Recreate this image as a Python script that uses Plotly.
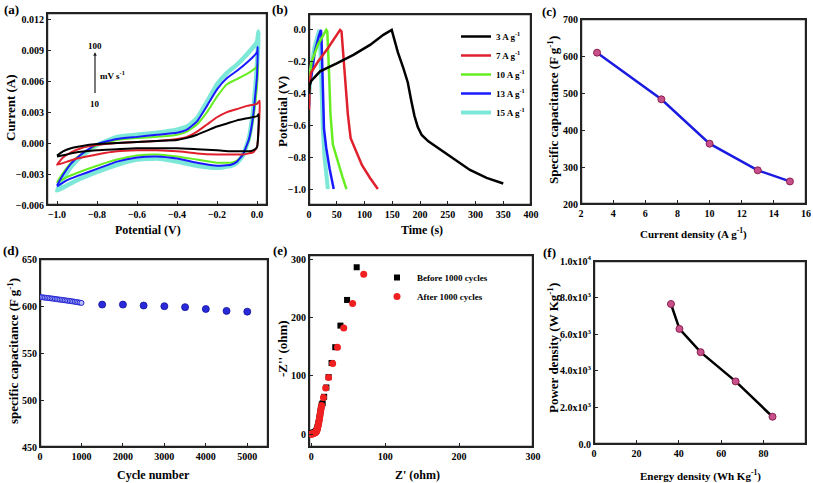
import plotly.graph_objects as go

W, H = 813, 483
FONT = "Liberation Serif"

# ---------------- (a) cyclic voltammetry, 10 -> 100 mV/s ----------------
cv_up_x = [-1.0, -0.97, -0.93, -0.88, -0.8, -0.7, -0.6, -0.5, -0.4, -0.35, -0.3, -0.25, -0.2, -0.15, -0.1, -0.05, 0.0]
cv_lo_x = [0.0, -0.02, -0.04, -0.07, -0.1, -0.13, -0.2, -0.3, -0.4, -0.5, -0.6, -0.7, -0.8, -0.9, -0.95, -1.0]

cv_black_up = [-0.0012, -0.0008, -0.0005, -0.0003, -0.0001, 0.0, 0.0001, 0.0002, 0.0003, 0.0005, 0.0008, 0.0012, 0.0016, 0.0019, 0.0022, 0.0024, 0.0026]
cv_black_lo = [-0.0004, -0.0007, -0.0008, -0.0008, -0.0008, -0.0008, -0.0007, -0.0006, -0.0005, -0.0005, -0.0005, -0.0006, -0.0007, -0.0009, -0.0011, -0.0013]
cv_black_tip = [0.008, 0.0028]

cv_red_up = [-0.0021, -0.0014, -0.0009, -0.0005, -0.0002, 0.0, 0.0001, 0.0002, 0.0004, 0.0006, 0.0011, 0.0018, 0.0025, 0.003, 0.0033, 0.0036, 0.0038]
cv_red_lo = [-0.0004, -0.0009, -0.0010, -0.0011, -0.0011, -0.0011, -0.0011, -0.0010, -0.0008, -0.0007, -0.0007, -0.0008, -0.0011, -0.0015, -0.0018, -0.0021]
cv_red_tip = [0.013, 0.0041]

cv_green_up = [-0.0038, -0.0029, -0.0019, -0.0011, -0.0002, 0.0003, 0.0005, 0.0006, 0.0008, 0.0011, 0.0018, 0.003, 0.0045, 0.0057, 0.0062, 0.0067, 0.0074]
cv_green_lo = [0.0055, 0.0022, 0.0003, -0.0011, -0.0017, -0.0019, -0.0019, -0.0016, -0.0013, -0.0011, -0.0012, -0.0016, -0.0022, -0.0029, -0.0033, -0.0038]
cv_green_tip = [0.005, 0.0078]

cv_blue_up = [-0.0041, -0.0031, -0.0020, -0.0011, -0.0001, 0.0004, 0.0006, 0.0008, 0.001, 0.0013, 0.0021, 0.0036, 0.0052, 0.0063, 0.007, 0.0078, 0.0088]
cv_blue_lo = [0.0065, 0.0025, 0.0004, -0.0011, -0.0018, -0.0021, -0.0022, -0.0019, -0.0015, -0.0013, -0.0014, -0.0018, -0.0025, -0.0032, -0.0036, -0.0042]
cv_blue_tip = [0.004, 0.0093]

cv_cyan_up = [-0.0046, -0.0035, -0.0023, -0.0013, -0.0002, 0.0006, 0.0008, 0.001, 0.0013, 0.0016, 0.0024, 0.004, 0.0057, 0.0068, 0.0076, 0.0086, 0.0098]
cv_cyan_lo = [0.0075, 0.003, 0.0005, -0.0012, -0.0019, -0.0022, -0.0024, -0.0022, -0.0018, -0.0015, -0.0016, -0.0021, -0.0028, -0.0036, -0.0041, -0.0046]
cv_cyan_tip = [0.008, 0.0108]

# ---------------- (b) galvanostatic charge/discharge ----------------
gcd_labels = ["3 A g<sup>-1</sup>", "7 A g<sup>-1</sup>", "10 A g<sup>-1</sup>", "13 A g<sup>-1</sup>", "15 A g<sup>-1</sup>"]
gcd3_t = [0, 1, 4, 20, 50, 80, 110, 134, 149, 152, 160, 170, 178, 184, 190, 196, 203, 215, 232, 260, 290, 320, 350]
gcd3_v = [-0.40, -0.35, -0.32, -0.26, -0.21, -0.157, -0.094, -0.031, 0.0, -0.04, -0.14, -0.24, -0.33, -0.44, -0.54, -0.61, -0.66, -0.70, -0.74, -0.81, -0.88, -0.93, -0.965]
gcd7_t = [0, 1, 3.5, 16, 34, 56, 58.6, 62, 66, 70, 75, 84, 95.5, 110, 124]
gcd7_v = [-0.50, -0.35, -0.27, -0.2, -0.115, 0.0, -0.01, -0.18, -0.37, -0.53, -0.68, -0.76, -0.85, -0.93, -1.0]
gcd10_t = [0, 1, 4.7, 16, 31, 33, 36, 38.7, 43, 51.6, 60, 67.5]
gcd10_v = [-0.45, -0.3, -0.2, -0.094, 0.0, -0.01, -0.26, -0.53, -0.72, -0.83, -0.92, -1.0]
gcd13_t = [0, 1, 4.7, 10.5, 17.6, 21.5, 22.5, 24.6, 27, 31, 37, 44.5]
gcd13_v = [-0.48, -0.35, -0.28, -0.136, -0.04, 0.0, -0.05, -0.37, -0.62, -0.74, -0.87, -1.0]
gcd15_t = [0, 1, 3.5, 9.4, 16.4, 18.5, 19.5, 22.3, 25.2, 28, 34]
gcd15_v = [-0.42, -0.33, -0.26, -0.115, -0.03, 0.0, -0.03, -0.37, -0.64, -0.8, -1.0]

# ---------------- (c) rate capability ----------------
cd_current = [3, 7, 10, 13, 15]
cd_capacitance = [609, 483, 363, 291, 261]

# ---------------- (d) cycling stability ----------------
cyc_early = [0, 40, 80, 120, 160, 200, 240, 280, 320, 360, 400, 440, 480, 520, 560, 600, 640, 680, 720, 760, 800, 840, 880, 920, 960, 1000]
cap_early = [609.6, 609.4, 609.1, 608.9, 608.7, 608.5, 608.2, 608.0, 607.8, 607.5, 607.3, 607.0, 606.8, 606.6, 606.3, 606.1, 605.8, 605.6, 605.3, 605.1, 604.8, 604.5, 604.2, 603.9, 603.6, 603.3]
cyc_late = [1500, 2000, 2500, 3000, 3500, 4000, 4500, 5000]
cap_late = [601.5, 601.5, 600.5, 599.8, 598.8, 596.8, 594.8, 594.0]

# ---------------- (e) Nyquist ----------------
before_zr = [0.3, 0.8, 1.5, 2.3, 3.2, 4.1, 5.0, 5.9, 6.7, 7.4, 8.0, 8.5, 9.0, 9.5, 10.0, 10.5, 11.0, 11.5, 12.0, 12.5, 13.0, 13.6, 14.3, 15.5, 17.5, 20.5, 23.5, 27.5, 32.5, 39.5, 48.5, 61.5]
before_zi = [1.0, 1.6, 2.0, 2.3, 2.6, 3.0, 3.5, 4.3, 5.5, 7.0, 9.0, 11.5, 14.0, 17.0, 20.0, 23.5, 27.0, 31.0, 35.0, 39.0, 43.0, 47.0, 51.0, 53.0, 64.0, 80.0, 98.0, 122.0, 149.0, 186.0, 230.0, 286.0]
after_zr = [0.0, 0.5, 1.2, 2.0, 2.9, 3.8, 4.7, 5.6, 6.4, 7.1, 7.7, 8.2, 8.7, 9.2, 9.7, 10.2, 10.7, 11.2, 11.7, 12.2, 12.8, 13.4, 14.1, 16.5, 19.5, 23.5, 29.0, 35.5, 44.0, 56.0, 71.0]
after_zi = [0.0, 0.2, 0.4, 0.7, 1.0, 1.4, 2.0, 2.8, 3.8, 5.2, 7.0, 9.0, 11.5, 14.0, 17.0, 20.0, 23.5, 27.0, 31.0, 35.0, 39.5, 44.0, 49.0, 63.0, 79.0, 97.0, 121.0, 149.0, 182.0, 224.0, 274.0]

# ---------------- (f) Ragone ----------------
energy = [36.3, 40.3, 50.3, 66.8, 84.2]
power = [7650, 6290, 5020, 3420, 1490]
f_tickvals = [0, 2000, 4000, 6000, 8000, 10000]
f_ticktext = ["0.0", "2.0x10<sup>3</sup>", "4.0x10<sup>3</sup>", "6.0x10<sup>3</sup>", "8.0x10<sup>3</sup>", "1.0x10<sup>4</sup>"]

C_BLACK, C_RED, C_GREEN, C_BLUE, C_CYAN = "#000000", "#e0202c", "#66ee22", "#1a1aff", "#7de8d8"

frames = {
    1: (47, 267, 13, 205),
    2: (309, 531, 14, 205),
    3: (581, 806, 19, 204),
    4: (40, 268, 259, 447),
    5: (309, 533, 255, 447),
    6: (594, 806, 261, 444),
}
xcfg = {
    1: dict(range=[-1.05, 0.05], tickvals=[-1.0, -0.8, -0.6, -0.4, -0.2, 0.0], tickformat=".1f"),
    2: dict(range=[0, 400], dtick=50),
    3: dict(range=[2, 16], dtick=2),
    4: dict(range=[0, 5500], tickvals=[0, 1000, 2000, 3000, 4000, 5000]),
    5: dict(range=[-3, 300], tickvals=[0, 100, 200, 300]),
    6: dict(range=[0, 100], dtick=20),
}
ycfg = {
    1: dict(range=[-0.006, 0.0126], tickvals=[-0.006, -0.003, 0.0, 0.003, 0.006, 0.009, 0.012], tickformat=".3f"),
    2: dict(range=[-1.1, 0.1], tickvals=[-1.0, -0.8, -0.6, -0.4, -0.2, 0.0], tickformat=".1f"),
    3: dict(range=[200, 700], dtick=100),
    4: dict(range=[450, 650], dtick=50),
    5: dict(range=[-22, 307], tickvals=[0, 100, 200, 300]),
    6: dict(range=[0, 10000], tickvals=f_tickvals, ticktext=f_ticktext),
}

fig = go.Figure()

# panel frames, traced along each subplot's own axis range
for i in range(1, 7):
    sx = "" if i == 1 else str(i)
    x0, x1 = xcfg[i]["range"]
    y0, y1 = ycfg[i]["range"]
    fig.add_trace(go.Scatter(x=[x0, x1, x1, x0, x0], y=[y0, y0, y1, y1, y0], mode="lines",
                             line=dict(color="#222", width=2.4), hoverinfo="skip", showlegend=False,
                             xaxis="x" + sx, yaxis="y" + sx))


def loop(up, tip, lo):
    xs = cv_up_x + [tip[0]] + cv_lo_x
    ys = up + [tip[1]] + lo
    return xs, ys


for up, tip, lo, col, w in [
    (cv_cyan_up, cv_cyan_tip, cv_cyan_lo, C_CYAN, 4.5),
    (cv_green_up, cv_green_tip, cv_green_lo, C_GREEN, 2),
    (cv_blue_up, cv_blue_tip, cv_blue_lo, C_BLUE, 2),
    (cv_red_up, cv_red_tip, cv_red_lo, C_RED, 2),
    (cv_black_up, cv_black_tip, cv_black_lo, C_BLACK, 2),
]:
    xs, ys = loop(up, tip, lo)
    fig.add_trace(go.Scatter(x=xs, y=ys, mode="lines", line=dict(color=col, width=w, shape="spline", smoothing=0.4),
                             xaxis="x", yaxis="y", showlegend=False))

gcd = [(gcd15_t, gcd15_v, C_CYAN, 4, 5), (gcd13_t, gcd13_v, C_BLUE, 2.5, 4), (gcd10_t, gcd10_v, C_GREEN, 2.5, 3),
       (gcd7_t, gcd7_v, C_RED, 2.5, 2), (gcd3_t, gcd3_v, C_BLACK, 2.5, 1)]
for t, v, col, w, rank in gcd:
    fig.add_trace(go.Scatter(x=t, y=v, mode="lines", line=dict(color=col, width=w), name=gcd_labels[rank - 1],
                             legendrank=rank, xaxis="x2", yaxis="y2", legend="legend"))

fig.add_trace(go.Scatter(x=cd_current, y=cd_capacitance, mode="lines+markers",
                         line=dict(color="#1a1ae0", width=2.5),
                         marker=dict(size=7, color="#c8508a", line=dict(color="#8a2050", width=1)),
                         xaxis="x3", yaxis="y3", showlegend=False))

fig.add_trace(go.Scatter(x=cyc_early, y=cap_early, mode="markers",
                         marker=dict(size=5, color="#b8c0ff", line=dict(color="#2020d0", width=1)),
                         xaxis="x4", yaxis="y4", showlegend=False))
fig.add_trace(go.Scatter(x=cyc_late, y=cap_late, mode="markers",
                         marker=dict(size=7, color="#2a2ad8", line=dict(color="#1010a0", width=0.8)),
                         xaxis="x4", yaxis="y4", showlegend=False))

fig.add_trace(go.Scatter(x=before_zr, y=before_zi, mode="markers", name="Before 1000 cycles",
                         marker=dict(size=6, symbol="square", color="#000000"),
                         xaxis="x5", yaxis="y5", legend="legend2"))
fig.add_trace(go.Scatter(x=after_zr, y=after_zi, mode="markers", name="After 1000 cycles",
                         marker=dict(size=7, symbol="circle", color="#f02020"),
                         xaxis="x5", yaxis="y5", legend="legend2"))

fig.add_trace(go.Scatter(x=energy, y=power, mode="lines+markers",
                         line=dict(color="#000000", width=2.5),
                         marker=dict(size=7, color="#c8508a", line=dict(color="#8a2050", width=1)),
                         xaxis="x6", yaxis="y6", showlegend=False))


def px_x(p):
    return p / W


def px_y(p):
    return 1 - p / H


tickfont = dict(family=FONT, size=10, color="black", weight="bold")
base = dict(showline=True, linecolor="#222", linewidth=1.2, mirror=True, ticks="inside", ticklen=4,
            tickcolor="#222", tickwidth=1.2, showgrid=False, zeroline=False, tickfont=tickfont, automargin=False)

layout = dict(template="none", width=W, height=H, margin=dict(l=0, r=0, t=0, b=0, pad=0, autoexpand=False),
              paper_bgcolor="white", plot_bgcolor="white", font=dict(family=FONT, color="black"))
for i in range(1, 7):
    l, r, t, b = frames[i]
    sx = "" if i == 1 else str(i)
    layout["xaxis" + sx] = dict(base, domain=[px_x(l), px_x(r)], anchor="y" + sx, **xcfg[i])
    layout["yaxis" + sx] = dict(base, domain=[px_y(b), px_y(t)], anchor="x" + sx, **ycfg[i])

layout["legend"] = dict(x=px_x(456), y=px_y(22), xanchor="left", yanchor="top", bgcolor="rgba(0,0,0,0)",
                        font=dict(family=FONT, size=9, color="black", weight="bold"), itemwidth=30,
                        tracegroupgap=0, borderwidth=0)
layout["legend2"] = dict(x=px_x(377), y=px_y(263), xanchor="left", yanchor="top", bgcolor="rgba(0,0,0,0)",
                         font=dict(family=FONT, size=9, color="black", weight="bold"), itemwidth=30,
                         borderwidth=0)
fig.update_layout(**layout)


def note(text, x, y, size, angle=0):
    return dict(text=text, x=px_x(x), y=px_y(y), xref="paper", yref="paper", showarrow=False,
                xanchor="center", yanchor="middle", textangle=angle,
                font=dict(family=FONT, size=size, color="black", weight="bold"))


ann = []
for txt, x, y in [("(a)", 11, 10), ("(b)", 280, 10), ("(c)", 549, 11), ("(d)", 11, 250), ("(e)", 280, 250), ("(f)", 549, 252)]:
    ann.append(note(txt, x, y, 13))

xtitles = [("Potential (V)", 148, 230, 12), ("Time (s)", 422, 230, 12), ("Current density (A g<sup>-1</sup>)", 693, 233, 11),
           ("Cycle number", 153, 475, 12), ("Z' (ohm)", 417, 475, 12), ("Energy density (Wh Kg<sup>-1</sup>)", 700, 475, 11)]
for txt, x, y, s in xtitles:
    ann.append(note(txt, x, y, s))
ytitles = [("Current (A)", 11, 108), ("Potential (V)", 282, 112), ("Specific capacitance (F g<sup>-1</sup>)", 553, 110),
           ("specific capacitance (F g<sup>-1</sup>)", 13, 351), ("-Z'' (ohm)", 282, 349),
           ("Power density (W Kg<sup>-1</sup>)", 553, 348)]
for txt, x, y in ytitles:
    ann.append(note(txt, x, y, 13, -90))

small = dict(family=FONT, size=9, color="black", weight="bold")
ann.append(dict(x=-0.81, y=0.0088, ax=-0.81, ay=0.0047, xref="x", yref="y", axref="x", ayref="y", text="",
                showarrow=True, arrowhead=2, arrowsize=0.6, arrowwidth=1.2, arrowcolor="#222"))
ann.append(dict(x=-0.81, y=0.0094, xref="x", yref="y", text="100", showarrow=False, font=small,
                xanchor="center", yanchor="middle"))
ann.append(dict(x=-0.81, y=0.0038, xref="x", yref="y", text="10", showarrow=False, font=small,
                xanchor="center", yanchor="middle"))
ann.append(dict(x=-0.797, y=0.0066, xref="x", yref="y", text="mV s<sup>-1</sup>", showarrow=False, font=small,
                xanchor="left", yanchor="middle"))
fig.update_layout(annotations=ann)

fig.write_html("out.html", config={"displayModeBar": False},
               post_script="document.body.style.margin='0px';document.body.style.overflow='hidden';")
